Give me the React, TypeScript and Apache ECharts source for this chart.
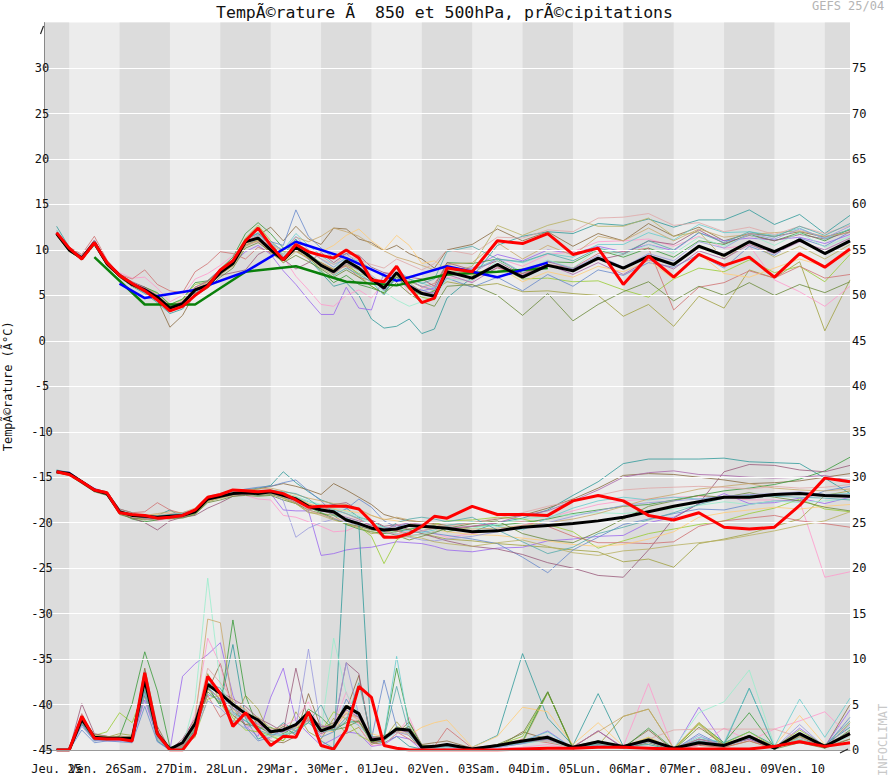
import React, { useEffect, useRef } from "react";
import * as echarts from "echarts";

// ---------- time axis (hours after start) ----------
const hours = [6,12,18,24,30,36,42,48, 54,60,66,72,78,84,90,96, 102,108,114,120,126,132,138,144, 150,156,162,168,174,180,186,192, 204,216,228,240,252,264,276,288, 300,312,324,336,348,360,372,384];
const dayLabels = ["Jeu. 25","Ven. 26","Sam. 27","Dim. 28","Lun. 29","Mar. 30","Mer. 01","Jeu. 02","Ven. 03","Sam. 04","Dim. 05","Lun. 06","Mar. 07","Mer. 08","Jeu. 09","Ven. 10"];
const dayLabelHours = [6,12,36,60,84,108,132,156,180,204,228,252,276,300,324,348];
const darkBands = [[0,12],[36,60],[84,108],[132,156],[180,204],[228,252],[276,300],[324,348],[372,384]];
const gridLineValues = [-40,-35,-30,-25,-20,-15,-10,-5,0,5,10,15,20,25,30];

// ---------- main lines ----------
const mean850 = [11.8,10.0,9.1,10.8,8.5,7.2,6.2,5.6, 4.8,3.6,4.1,5.6,6.1,7.5,8.5,10.9, 11.3,10.0,8.9,10.3,9.4,8.3,7.6,8.8, 8.0,6.8,5.8,7.5,6.0,5.2,4.9,7.6, 6.9,8.4,7.0,8.3,7.7,9.1,8.0,9.3, 8.4,10.4,9.4,10.9,9.8,11.1,9.6,11.0];
const ctrl850 = [11.9,10.2,9.0,10.8,8.6,7.2,6.3,5.5, 4.5,3.3,3.8,5.0,6.0,7.8,8.8,11.0, 12.4,10.5,8.9,10.6,9.8,9.4,9.1,10.0, 9.1,6.7,6.5,8.2,5.9,4.2,4.7,8.0, 7.6,11.0,10.7,11.8,9.5,10.2,6.2,9.3, 7.0,9.5,8.3,9.2,7.0,9.6,8.1,10.1];
const mean500 = [-14.4,-14.6,-15.5,-16.4,-16.8,-18.8,-19.2,-19.3, -19.4,-19.3,-19.2,-18.8,-17.4,-17.1,-16.8,-16.7, -16.8,-16.6,-17.0,-17.4,-18.2,-18.6,-18.8,-19.7, -20.1,-20.6,-20.8,-20.7,-20.3,-20.4,-20.5,-20.6, -21.0,-20.9,-20.5,-20.3,-20.1,-19.8,-19.4,-18.8, -18.2,-17.7,-17.2,-17.2,-16.9,-16.8,-17.0,-17.1];
const ctrl500 = [-14.4,-14.7,-15.5,-16.4,-16.7,-18.9,-19.1,-19.2, -19.5,-19.4,-19.2,-18.6,-17.2,-16.9,-16.4,-16.5, -16.6,-16.5,-16.8,-17.5,-18.3,-18.2,-18.2,-18.2, -18.5,-19.9,-21.6,-21.6,-21.2,-20.4,-19.3,-19.5, -18.2,-19.1,-19.1,-19.2,-17.6,-17.0,-17.6,-19.2, -19.7,-18.9,-20.5,-20.7,-20.5,-18.1,-15.1,-15.5];
const meanPr = [0,0,3.4,1.4,1.3,1.3,1.3,7.7, 1.8,0.1,0.8,2.9,7.2,6.2,5.0,4.0, 3.3,2.0,2.2,2.8,4.1,2.1,2.6,4.8, 4.0,1.1,1.3,2.3,2.2,0.3,0.4,0.6, 0.1,0.5,1.0,1.4,0.3,0.9,0.4,1.1, 0.2,0.8,0.5,1.5,0.2,1.8,0.4,1.8];
const ctrlPr = [0,0,3.7,1.3,1.2,1.2,1.0,8.5, 1.8,0,0,1.8,8.1,6.2,2.6,4.1, 2.2,0.5,1.5,1.4,4.2,0.5,0.1,2.2, 7.0,5.8,0.5,0.2,0,0,0,0, 0,0,0.1,0.2,0.2,0.3,0.3,0.2, 0.1,0.1,0.1,0.1,0.4,0.9,0.4,0.8];

const greenHours = [24,48,72,96,120,144,168,192,216,240];
const green850 = [9.2,4.0,4.0,7.6,8.2,6.5,6.1,7.3,7.6,8.0];
const blueHours = [36,48,72,96,120,144,168,192,216,240];
const blue850 = [6.3,4.7,5.6,7.6,10.9,9.1,6.6,8.2,7.0,8.6];

// ---------- ensemble members: 850 hPa ----------
const teal850 = [12.6,10.3,9.3,10.9,8.6,7.0,6.0,5.2, 4.2,3.0,3.5,5.2,6.3,7.6,8.8,11.2, 11.8,10.5,9.5,11.2,9.0,7.5,6.0,6.4, 5.0,2.4,1.4,1.6,2.4,0.8,1.3,4.7, 7.0,10.5,11.5,12.0,11.8,12.9,12.7,13.4, 12.5,13.3,13.3,14.4,12.8,13.9,11.8,13.8];
const olive850 = [11.6,9.8,9.0,10.6,8.3,7.0,6.1,5.4, 4.6,3.4,4.3,5.9,6.5,7.7,8.7,10.6, 11.0,9.6,8.8,10.0,9.1,8.6,7.9,8.3, 7.4,7.0,6.2,7.0,6.5,6.0,5.5,6.5, 6.0,6.3,5.4,5.5,5.2,5.0,2.7,4.0, 1.6,4.9,3.6,7.8,6.9,8.7,1.1,6.7];
const brown850 = [11.9,10.1,9.2,11.0,8.6,7.3,6.3,5.5, 4.5,1.5,2.8,5.3,6.6,7.6,8.6,10.8, 11.6,12.5,11.0,12.6,11.2,10.6,12.4,12.3, 11.2,10.8,9.9,10.5,9.6,9.0,8.0,10.0, 10.6,12.3,11.0,12.0,10.4,11.8,11.0,12.9, 11.5,12.5,11.0,11.8,11.5,12.0,11.4,12.2];
const purple850 = [11.7,10.1,9.0,10.7,8.4,7.1,6.0,5.8, 4.9,3.7,4.2,5.4,6.2,7.9,8.5,9.8, 10.5,9.5,7.7,6.2,4.5,2.9,2.9,5.9, 3.6,3.4,7.5,7.0,6.2,5.5,5.8,7.9, 8.0,9.5,8.8,10.0,9.6,10.4,9.8,10.6, 9.9,11.9,11.0,11.3,11.1,11.4,10.7,11.7];
const pink850 = [11.8,9.9,9.2,10.9,8.7,7.5,6.9,7.0, 5.8,4.3,5.0,6.8,7.4,8.3,9.4,10.6, 10.9,9.8,9.2,7.1,5.6,4.0,3.8,5.0, 5.6,4.7,6.5,7.4,5.2,5.8,6.0,7.0, 6.5,9.1,8.2,9.5,9.8,10.9,11.0,11.2, 10.4,11.5,10.2,10.5,6.7,5.4,3.8,6.0];
const lime850 = [11.7,10.0,9.1,10.7,8.4,7.1,6.1,5.9, 5.2,4.0,4.5,6.2,6.5,7.7,8.9,11.3, 12.7,11.0,9.8,10.0,9.5,8.6,7.8,8.6, 7.2,6.0,5.2,7.2,5.6,4.8,4.5,8.2, 7.2,8.3,6.8,6.9,6.5,6.6,5.6,4.8, 6.8,8.0,7.6,8.9,7.5,8.2,6.5,9.5];
const green2_850 = [11.9,10.2,8.9,10.6,8.5,7.3,6.4,5.9, 5.3,4.0,4.6,6.4,6.6,7.9,9.2,11.8, 13.0,11.8,10.2,10.4,9.2,7.7,6.4,7.2, 6.2,5.8,5.3,7.0,5.7,5.0,5.5,8.6, 8.5,9.0,7.4,8.7,8.6,10.0,9.2,10.2, 9.2,11.0,10.6,11.7,11.0,11.9,11.0,12.3];
const slate850 = [11.8,10.0,9.0,10.9,8.6,7.1,6.1,5.3, 4.4,3.2,4.0,5.5,6.0,7.4,8.4,10.5, 11.2,10.9,10.5,14.4,11.5,10.2,9.1,9.6, 8.5,6.9,5.5,6.8,5.8,5.6,5.1,6.9, 5.9,7.0,5.5,7.3,6.0,7.8,7.2,8.6, 8.1,9.5,8.0,10.4,9.4,11.3,10.4,12.0];
const mauve850 = [11.9,10.1,9.1,10.8,8.5,7.3,6.5,5.9, 5.0,3.9,4.1,5.7,6.2,7.2,7.5,7.8, 9.5,10.2,9.0,7.9,8.6,9.7,8.6,9.6, 9.4,8.1,7.5,7.3,7.0,6.8,6.0,8.6, 7.8,8.8,7.2,8.7,8.0,8.9,9.5,11.0, 10.6,12.2,10.7,11.6,11.0,11.7,11.2,12.0];
const salmon850 = [12.0,10.3,9.5,11.5,8.9,7.3,6.8,7.8, 6.2,5.5,5.3,7.6,8.5,9.8,9.6,9.0, 10.3,9.7,9.2,9.9,9.0,8.6,7.8,8.2, 7.0,6.6,6.4,7.3,6.8,5.9,6.3,8.2, 6.8,8.0,7.4,8.4,8.0,9.6,9.8,10.2, 3.4,5.9,6.4,7.7,6.9,8.2,6.9,7.3];
const peach850 = [11.8,10.0,9.2,10.8,8.4,7.2,6.2,5.6, 4.9,3.8,4.4,5.8,6.3,7.5,8.3,10.6, 11.4,10.2,9.1,10.6,10.5,9.8,10.5,11.6, 12.3,11.0,10.0,11.6,10.5,8.5,8.8,7.8, 7.3,8.2,6.5,7.6,7.0,8.2,7.6,8.8, 6.8,9.6,7.4,7.0,8.0,9.0,8.2,9.7];
const aqua850 = [12.2,10.2,9.3,11.0,8.7,7.2,6.3,5.7, 4.6,3.4,4.0,5.6,6.0,7.3,8.4,11.0, 11.5,10.7,10.0,11.8,10.5,9.4,8.4,9.0, 8.8,7.9,7.0,7.9,6.8,6.4,5.8,7.5, 7.8,9.0,8.6,9.6,9.2,10.6,10.6,11.9, 11.1,12.8,11.9,12.0,11.6,12.4,11.2,12.3];
const mint850 = [11.8,9.9,9.0,10.7,8.5,7.2,6.3,5.7, 4.7,3.6,4.0,5.4,6.2,7.6,8.6,10.8, 11.2,10.4,9.6,10.6,10.0,9.0,8.1,8.7, 7.6,6.4,5.4,4.5,3.8,4.3,4.8,6.8, 6.6,8.8,7.6,8.9,8.0,10.1,9.4,10.6, 9.6,11.4,10.4,11.7,10.5,11.9,10.3,11.5];
const tan850 = [11.9,10.1,9.0,10.9,8.6,7.4,6.4,5.5, 4.7,3.7,4.3,5.7,6.4,7.4,8.2,10.4, 11.0,10.6,9.8,11.4,10.9,11.5,12.4,12.0, 11.5,10.6,9.9,9.2,8.8,8.3,7.8,8.4, 8.6,10.8,9.0,10.5,9.4,11.5,11.0,12.4, 11.0,12.3,11.4,11.7,11.9,12.1,11.5,11.9];
const dkolive850 = [11.7,9.9,8.9,10.5,8.3,7.0,6.0,5.4, 4.6,3.3,3.8,5.0,5.8,7.0,8.0,10.2, 10.8,9.8,8.6,9.4,8.7,7.9,7.0,7.8, 7.0,6.0,5.2,6.4,5.2,4.3,3.8,6.0, 6.2,5.0,2.8,5.2,2.2,4.0,5.4,6.5, 4.4,6.0,5.0,6.4,5.0,6.2,5.3,6.5];
const lavender850 = [11.9,10.0,9.2,10.8,8.5,7.2,6.2,5.7, 4.8,3.6,4.1,5.5,6.0,7.4,8.4,10.9, 11.7,10.8,9.9,11.5,10.0,9.0,8.1,9.2, 8.6,7.2,6.2,8.0,6.6,6.0,5.6,8.1, 7.4,9.1,7.5,8.8,7.9,9.4,8.1,9.6, 8.8,10.9,10.2,11.8,11.2,12.3,11.3,12.6];
const rose850 = [11.8,10.1,9.1,10.9,8.6,7.3,6.4,5.8, 5.0,3.9,4.4,5.9,6.4,7.7,8.7,11.0, 11.6,10.4,9.5,10.8,9.9,9.0,8.4,9.4, 8.9,8.4,8.0,9.0,8.4,7.8,8.5,10.0, 9.5,11.4,11.3,12.2,12.0,13.5,13.6,14.0, 12.7,13.0,12.0,12.5,11.7,12.6,11.8,12.7];
const cyan850 = [11.8,10.0,9.0,10.8,8.5,7.1,6.1,5.5, 4.6,3.5,4.0,5.6,6.2,7.6,8.6,11.1, 11.9,10.6,9.3,10.6,9.6,8.5,7.2,8.0, 7.3,6.5,5.0,7.4,6.8,6.3,6.8,9.8, 10.4,9.0,8.7,9.6,8.8,10.2,9.6,11.0, 10.0,11.9,10.8,12.0,11.4,12.6,11.6,12.9];
const khaki850 = [11.6,9.9,9.0,10.6,8.4,7.1,6.0,5.4, 4.5,3.4,4.2,5.8,6.0,7.2,8.3,10.5, 11.1,9.8,8.6,9.8,9.1,8.0,7.3,8.4, 7.8,6.6,6.0,7.6,6.4,5.4,5.0,7.4, 8.2,12.7,11.6,12.7,13.4,12.6,12.6,13.5, 11.5,12.0,9.0,10.8,9.2,10.4,9.0,10.6];
const plum850 = [11.9,10.2,9.3,11.1,8.7,7.4,6.4,5.8, 4.9,3.8,4.3,5.9,6.6,7.9,8.9,10.9, 11.4,10.3,9.2,10.3,9.3,8.3,7.4,8.5, 7.8,6.7,5.6,7.6,6.1,5.3,5.3,7.3, 6.4,8.1,7.2,8.4,7.3,8.6,7.3,8.9, 7.9,9.9,9.0,10.6,9.6,10.9,10.0,11.3];

// ---------- ensemble members: 500 hPa ----------
const teal500 = [-14.2,-14.5,-15.4,-16.3,-16.6,-18.5,-18.9,-19.6, -19.2,-18.6,-19.4,-19.0,-17.3,-16.9,-16.5,-16.4, -16.2,-15.9,-14.4,-15.6,-16.6,-17.5,-18.0,-18.4, -19.4,-19.8,-20.5,-20.8,-21.2,-20.9,-20.6,-20.4, -21.0,-20.0,-19.5,-18.6,-17.0,-15.5,-13.5,-13.0, -13.0,-13.0,-12.9,-13.3,-13.4,-13.5,-15.1,-16.8];
const olive500 = [-14.4,-14.6,-15.6,-16.5,-16.9,-19.0,-19.5,-19.7, -19.5,-19.6,-19.4,-19.0,-17.7,-17.3,-16.9,-16.8, -16.9,-16.8,-17.3,-17.9,-18.9,-19.0,-19.2,-20.2, -20.5,-21.2,-21.0,-20.9,-20.7,-21.2,-21.5,-21.8, -22.0,-22.3,-22.5,-22.7,-23.0,-23.2,-24.3,-24.0, -24.9,-22.3,-21.8,-21.2,-20.4,-19.6,-17.0,-16.5];
const brown500 = [-14.5,-14.7,-15.5,-16.4,-16.7,-18.9,-19.3,-19.3, -19.3,-19.2,-19.0,-18.6,-17.2,-16.9,-16.6,-16.5, -16.3,-16.0,-15.7,-16.0,-16.4,-16.9,-15.7,-16.4, -17.2,-18.0,-19.1,-19.5,-19.8,-19.9,-20.1,-20.3, -20.0,-19.6,-19.2,-18.4,-17.4,-16.2,-14.8,-14.6, -14.7,-15.0,-15.3,-15.7,-15.6,-15.4,-15.0,-14.6];
const purple500 = [-14.3,-14.4,-15.4,-16.2,-16.7,-18.7,-19.1,-19.2, -19.2,-19.0,-18.9,-18.6,-17.4,-17.0,-16.8,-16.7, -17.0,-16.8,-18.6,-18.7,-18.7,-23.6,-23.4,-23.0, -22.8,-22.7,-22.4,-22.1,-22.2,-22.3,-22.6,-23.0, -23.2,-22.8,-22.7,-22.0,-21.8,-21.5,-21.4,-20.0, -19.4,-17.9,-16.8,-17.9,-17.8,-17.3,-17.9,-17.2];
const pink500 = [-14.4,-14.6,-15.5,-16.5,-16.9,-19.0,-19.4,-19.6, -19.8,-19.5,-19.0,-18.6,-17.6,-17.2,-17.0,-17.0, -17.4,-17.5,-19.2,-19.4,-19.9,-20.4,-21.0,-20.9, -20.3,-20.6,-20.5,-20.8,-21.0,-20.8,-21.2,-21.6, -21.2,-20.8,-20.3,-19.5,-18.7,-18.0,-17.6,-17.4, -17.2,-17.1,-17.2,-17.5,-17.5,-17.6,-26.0,-25.4];
const lime500 = [-14.3,-14.6,-15.4,-16.3,-16.8,-18.8,-19.2,-19.4, -19.3,-19.1,-19.3,-19.0,-17.6,-17.1,-16.7,-16.6, -16.7,-16.5,-16.9,-17.2,-18.0,-18.6,-19.1,-19.6, -20.4,-21.5,-24.5,-21.9,-21.0,-20.6,-20.2,-19.8, -19.7,-19.4,-19.6,-20.2,-21.0,-22.8,-22.0,-21.2, -20.7,-20.2,-19.8,-19.0,-18.4,-17.4,-18.5,-18.8];
const green2_500 = [-14.4,-14.7,-15.6,-16.4,-16.8,-18.9,-19.6,-19.9, -19.7,-19.4,-19.0,-18.8,-17.5,-17.2,-16.9,-16.8, -17.0,-16.9,-17.2,-17.7,-18.3,-18.9,-19.5,-20.2, -20.7,-21.0,-21.2,-21.0,-20.7,-20.5,-20.3,-21.0, -20.4,-20.3,-20.0,-19.6,-19.0,-18.6,-18.2,-18.0, -17.5,-17.0,-16.5,-16.2,-15.8,-15.2,-14.3,-12.8];
const slate500 = [-14.3,-14.5,-15.5,-16.4,-16.7,-18.8,-19.2,-19.3, -19.4,-19.2,-19.1,-18.7,-17.3,-17.0,-16.6,-16.3, -16.1,-16.0,-15.6,-15.3,-16.5,-17.6,-19.0,-18.5, -17.4,-18.3,-19.8,-20.5,-20.0,-20.9,-21.2,-21.4, -21.8,-22.3,-23.8,-25.5,-23.0,-21.6,-20.2,-19.6, -19.0,-18.5,-18.6,-18.0,-17.6,-17.6,-16.5,-16.0];
const mauve500 = [-14.4,-14.6,-15.6,-16.5,-16.9,-19.0,-19.5,-20.0, -20.8,-19.8,-19.4,-19.2,-18.4,-17.8,-17.1,-16.9, -16.9,-16.7,-17.1,-17.8,-18.6,-18.3,-18.0,-17.8, -18.6,-19.7,-20.4,-20.2,-20.8,-21.2,-21.6,-22.0, -22.6,-22.9,-23.5,-24.4,-25.0,-25.8,-26.0,-23.0, -19.5,-17.9,-14.4,-13.6,-13.7,-14.2,-14.4,-13.7];
const salmon500 = [-14.5,-14.7,-15.4,-16.3,-16.6,-18.5,-18.9,-18.8, -17.8,-18.6,-19.0,-18.7,-17.5,-17.2,-16.9,-16.6, -16.7,-16.5,-16.9,-17.2,-17.9,-18.4,-18.5,-19.0, -19.6,-20.4,-20.6,-20.9,-21.4,-21.3,-21.0,-20.7, -20.4,-20.0,-19.9,-20.4,-21.5,-22.2,-22.2,-22.3, -22.1,-20.4,-19.8,-19.5,-19.2,-19.8,-20.1,-20.5];
const peach500 = [-14.4,-14.6,-15.5,-16.4,-16.8,-18.8,-19.1,-19.2, -19.1,-19.0,-19.1,-18.7,-17.2,-17.0,-16.7,-16.6, -16.6,-16.4,-16.8,-17.1,-17.9,-18.2,-18.5,-18.7, -18.9,-19.2,-19.6,-19.8,-20.0,-20.5,-20.7,-21.0, -21.3,-21.4,-21.7,-22.0,-22.4,-22.6,-22.4,-21.8, -21.0,-19.4,-18.9,-18.6,-18.3,-18.5,-18.2,-18.0];
const aqua500 = [-14.4,-14.6,-15.5,-16.4,-16.8,-18.9,-19.3,-19.4, -19.5,-19.4,-19.3,-18.9,-17.4,-17.1,-16.9,-16.7, -16.8,-16.7,-17.0,-17.2,-17.7,-18.1,-18.6,-19.0, -19.5,-20.3,-20.5,-20.7,-20.9,-21.1,-20.8,-20.3, -19.9,-20.4,-20.8,-19.5,-18.4,-17.6,-17.2,-17.5, -17.2,-17.4,-17.1,-17.3,-17.0,-16.8,-16.9,-16.8];
const mint500 = [-14.3,-14.5,-15.5,-16.3,-16.7,-18.7,-19.0,-19.2, -19.2,-19.1,-19.0,-18.7,-17.3,-17.0,-16.6,-16.5, -16.6,-16.4,-16.7,-17.1,-17.6,-18.0,-18.4,-18.8, -19.3,-20.0,-20.6,-21.2,-21.5,-21.3,-21.0,-20.7, -20.6,-20.2,-19.6,-19.3,-19.1,-18.9,-19.0,-18.7, -18.5,-18.1,-17.7,-18.0,-17.6,-17.8,-17.6,-17.4];
const tan500 = [-14.4,-14.6,-15.5,-16.4,-16.8,-18.9,-19.3,-19.2, -19.0,-18.8,-18.9,-18.4,-17.1,-16.8,-16.5,-16.4, -16.3,-16.2,-16.5,-16.9,-17.3,-17.6,-17.9,-18.0, -18.5,-19.2,-19.7,-19.4,-19.7,-20.0,-20.2,-20.5, -20.7,-20.6,-20.3,-20.0,-19.6,-19.0,-18.2,-17.4, -16.9,-16.3,-16.0,-15.7,-16.2,-16.4,-16.5,-16.3];
const dkolive500 = [-14.5,-14.8,-15.7,-16.6,-17.0,-19.1,-19.5,-19.6, -19.6,-19.5,-19.5,-19.1,-17.8,-17.5,-17.1,-17.0, -17.1,-17.0,-17.5,-17.9,-18.6,-19.0,-19.6,-20.1, -20.4,-20.8,-21.0,-21.4,-21.9,-21.5,-21.1,-20.6, -20.1,-19.8,-21.2,-21.9,-22.2,-21.0,-19.6,-18.2, -17.6,-17.0,-17.2,-16.7,-17.2,-17.6,-18.3,-18.7];
const lavender500 = [-14.3,-14.5,-15.4,-16.3,-16.7,-18.8,-19.1,-19.2, -19.3,-19.1,-19.1,-18.7,-17.3,-17.0,-16.7,-16.6, -16.7,-16.6,-17.6,-21.6,-20.6,-20.0,-19.6,-19.9, -20.3,-20.6,-21.0,-21.3,-21.6,-21.9,-22.0,-21.8, -21.5,-21.0,-20.6,-20.0,-19.3,-18.7,-18.1,-17.8, -17.6,-17.4,-17.1,-16.9,-16.8,-16.6,-16.9,-17.0];
const rose500 = [-14.4,-14.6,-15.5,-16.5,-16.9,-18.9,-19.3,-19.4, -19.4,-19.3,-19.2,-18.9,-17.5,-17.2,-16.9,-16.8, -16.9,-16.8,-17.2,-17.7,-18.6,-19.1,-19.5,-19.8, -20.2,-20.7,-21.0,-21.2,-21.1,-20.9,-20.6,-20.4, -20.0,-19.5,-18.9,-18.2,-17.6,-17.0,-16.4,-16.2, -16.1,-16.0,-16.1,-16.3,-16.0,-16.2,-16.1,-15.8];
const cyan500 = [-14.3,-14.5,-15.4,-16.3,-16.7,-18.8,-19.1,-19.3, -19.3,-19.1,-19.0,-18.6,-17.2,-16.9,-16.6,-16.5, -16.5,-16.4,-16.6,-16.8,-17.4,-18.4,-19.2,-19.6, -20.0,-20.6,-21.0,-20.0,-19.6,-19.4,-19.6,-19.9, -19.4,-20.8,-22.1,-23.4,-22.7,-21.2,-20.5,-19.7, -18.9,-18.0,-17.3,-17.0,-17.1,-17.2,-17.3,-17.5];
const khaki500 = [-14.5,-14.7,-15.6,-16.5,-16.9,-19.0,-19.3,-19.5, -19.6,-19.4,-19.3,-18.9,-17.6,-17.3,-17.0,-16.8, -16.9,-16.8,-17.3,-17.9,-18.8,-19.2,-19.7,-20.1, -20.6,-21.0,-21.4,-21.7,-21.5,-21.7,-22.1,-22.3, -22.6,-22.2,-21.9,-22.6,-23.3,-23.6,-23.1,-22.9, -22.5,-22.2,-21.9,-21.4,-20.9,-20.3,-19.8,-18.8];
const plum500 = [-14.4,-14.6,-15.5,-16.4,-16.8,-18.8,-19.2,-19.5, -19.6,-19.5,-19.3,-18.9,-17.5,-17.2,-16.9,-16.8, -16.8,-16.7,-17.1,-17.6,-18.3,-18.7,-19.0,-19.4, -19.8,-20.3,-20.7,-20.3,-20.0,-20.2,-20.4,-20.6, -20.4,-20.0,-19.2,-18.7,-17.6,-16.4,-15.0,-14.5, -14.3,-14.7,-14.8,-15.0,-15.1,-15.0,-14.8,-15.4];

// ---------- ensemble members: precipitation (mm, right axis) ----------
const tealPr = [0,0,2.8,1.0,1.3,1.1,0.9,6.5, 1.0,0,0.3,2.0,6.8,5.0,11.6,3.5, 1.2,1.8,3.0,2.1,3.4,1.0,0.2,25.5, 24.8,1.0,0.8,1.5,0.4,0.1,0,0.2, 0.3,1.6,10.6,3.5,0.5,6.2,0.4,0.6, 0,1.2,0.8,2.0,0.5,1.0,0.6,2.5];
const olivePr = [0,0,3.2,1.5,1.4,1.8,1.6,7.0, 2.0,0,0.5,1.4,8.4,5.2,3.0,6.0, 4.5,1.5,1.0,4.2,2.0,1.2,3.5,1.8, 2.5,0.6,1.2,3.1,1.5,0.2,0.3,0.5, 0,0.4,0.8,6.3,0.2,0.5,3.7,4.5, 0.2,2.8,0.3,1.0,0.1,1.5,0.2,3.0];
const brownPr = [0,0,3.6,1.7,1.5,1.2,1.1,9.0, 2.6,0,0.2,2.5,6.5,9.5,4.5,3.6, 2.2,1.0,0.8,1.5,6.2,2.4,3.0,4.4, 8.2,0.8,0.6,1.8,3.1,0.6,0.8,1.0, 0.2,0.3,2.0,1.2,0.4,1.0,0.3,2.2, 0,0.5,0.3,1.6,0.4,1.2,0.3,5.0];
const purplePr = [0,0,2.9,1.1,1.0,1.0,1.1,5.5, 1.4,0,8.1,9.5,10.5,11.8,6.0,2.6, 1.5,5.8,9.0,3.2,1.8,0.5,1.2,2.0, 1.8,0.4,0.6,1.5,1.2,0,0.2,0.3, 0.1,0.6,0.9,2.1,0.2,0.8,0.3,1.0, 0,4.7,0.6,1.2,0.2,2.4,0.4,4.4];
const pinkPr = [0,0,3.0,1.2,1.2,1.4,1.5,7.2, 1.6,0,0.4,4.0,12.3,9.4,4.0,2.8, 1.8,1.2,2.6,3.4,5.3,1.6,2.8,6.4, 2.6,0.5,0.6,1.8,3.6,0.4,0.3,0.2, 0,0.2,0.3,0.6,0.1,0.9,0.4,7.3, 0,0.5,2.4,1.0,2.3,3.2,4.2,1.5];
const limePr = [0,0,3.5,1.6,2.0,4.1,3.0,6.8, 1.2,0,0.3,1.6,5.6,6.0,3.5,2.2, 2.0,1.6,1.0,2.4,3.0,2.0,4.2,3.4, 1.6,0.9,1.0,2.6,2.0,0.4,0.3,0.5, 0.1,0.5,1.5,6.3,0.3,0.6,0.2,1.4, 0,2.9,0.7,2.0,0.3,2.2,0.5,2.0];
const green2Pr = [0,0,3.8,1.4,1.3,1.5,5.1,10.8, 6.5,0.3,0.5,3.0,7.0,4.8,14.3,6.0, 2.4,2.5,1.8,2.6,4.5,3.6,2.2,3.0, 3.2,1.2,1.5,9.0,3.0,0.5,0.4,0.6, 0.1,0.4,1.0,6.4,0.1,1.0,0.2,2.4, 0.1,3.0,0.8,4.1,0.3,1.5,0.2,2.2];
const slatePr = [0,0,2.2,0.8,1.0,0.9,0.8,4.8, 0.9,0,0.4,2.2,6.1,5.5,5.2,2.5, 1.0,1.4,2.4,1.8,3.6,1.4,2.0,5.6, 3.5,1.2,7.7,2.5,1.8,0.2,0.4,0.5, 0.1,0.3,0.7,1.2,0.2,0.6,0.3,1.2, 0,1.8,0.4,1.3,0.1,1.4,0.3,3.6];
const mauvePr = [0,0,5.1,1.8,1.5,1.3,1.2,8.6, 2.2,0,1.2,3.5,7.8,6.4,5.6,4.8, 3.5,2.8,2.0,9.0,3.0,1.8,2.4,9.6, 8.4,0.8,1.0,2.2,2.0,0.2,0.5,0.6, 0.2,0.5,0.9,1.0,0.3,2.1,0.2,1.0, 0.1,1.0,0.5,1.2,0.2,1.6,0.3,1.8];
const salmonPr = [0,0,4.0,1.2,1.4,1.3,1.2,7.6, 1.5,0,0.5,2.4,6.0,3.6,4.6,2.8, 3.2,2.0,2.8,2.0,3.3,2.8,2.0,3.6, 3.0,1.4,1.6,2.0,1.2,0.3,0.4,2.4, 0.2,0.4,1.2,0.8,0.3,0.6,0.2,1.0, 0.2,0.6,0.3,1.0,0.2,1.1,0.4,1.2];
const peachPr = [0,0,3.3,1.3,1.2,1.2,1.4,7.4, 1.7,0,0.6,2.8,6.6,5.8,4.4,3.8, 2.7,1.6,1.4,2.4,3.7,2.2,2.0,4.2, 3.3,1.8,1.4,2.2,1.6,2.5,3.0,3.3, 0.3,1.5,4.7,4.2,0.6,3.0,0.4,1.4, 0.1,3.0,0.5,1.4,0.4,3.8,0.6,1.8];
const aquaPr = [0,0,3.1,1.4,1.3,1.2,1.3,6.9, 2.0,0,0.4,2.6,7.0,5.5,4.0,3.2, 2.5,1.9,1.7,2.2,3.0,2.0,2.2,3.5, 2.7,1.3,1.5,10.3,2.4,0.3,0.2,0.4, 0.1,0.5,1.0,2.0,0.2,0.8,0.3,1.2, 0.1,1.4,0.8,6.8,0.4,5.6,1.4,5.7];
const mintPr = [0,0,3.3,1.3,1.3,1.2,1.3,7.0, 1.8,0,0.3,5.5,18.9,7.2,4.5,3.6, 2.0,1.4,1.5,2.6,3.6,2.0,12.3,6.2, 4.0,1.2,1.0,2.0,1.8,0.2,0.2,0.3, 0.2,0.3,0.8,1.0,0.2,0.7,0.3,1.0, 0.2,4.1,5.3,8.8,0.5,1.2,0.3,1.5];
const tanPr = [0,0,3.4,1.3,1.2,1.6,1.2,8.0, 1.9,0,0.5,3.4,14.4,14.0,5.0,4.5, 3.0,2.2,2.0,2.6,3.5,2.0,2.8,4.0, 3.6,1.0,1.2,2.4,2.0,0.4,0.5,0.6, 0.2,0.6,1.1,1.4,0.4,2.0,3.7,4.5, 0.2,1.2,0.6,1.6,0.3,1.5,0.4,1.8];
const dkolivePr = [0,0,3.0,1.1,1.1,1.2,1.2,6.0, 1.5,0,0.4,2.2,6.4,5.2,3.8,2.8, 2.6,1.8,2.6,1.6,3.9,2.6,2.2,2.5, 3.2,0.8,1.6,2.0,2.6,0.5,0.4,0.6, 0,0.6,1.8,6.4,0.2,0.4,0.2,0.8, 0,2.5,0.6,1.5,0.1,0.8,0.2,1.2];
const lavenderPr = [0,0,2.6,1.0,1.1,1.0,1.0,6.2, 1.2,0,0.3,2.0,5.4,4.6,3.2,2.4, 3.0,1.6,2.0,2.4,11.1,2.4,2.6,9.6, 3.8,1.0,1.2,2.0,1.6,0.2,0.3,0.4, 0.1,0.3,0.7,1.6,0.2,0.5,0.2,0.9, 0.1,1.6,0.4,1.3,0.2,2.8,0.3,2.8];
const rosePr = [0,0,3.5,1.5,1.4,1.3,1.4,7.8, 1.9,0,0.4,2.8,9.0,7.4,5.6,4.4, 3.0,1.8,2.2,2.6,3.4,2.2,2.4,4.0, 3.4,1.3,1.5,2.0,1.8,0.3,0.4,0.5, 0.3,0.5,1.0,1.0,0.4,0.8,0.4,1.2, 2.2,2.3,2.3,2.3,2.3,1.4,0.5,1.6];
const cyanPr = [0,0,3.0,1.2,1.1,1.2,1.1,6.6, 1.6,0,0.3,2.4,7.4,6.8,4.2,3.2, 2.2,1.7,1.6,2.0,3.0,5.0,2.0,3.2, 7.4,1.5,1.3,7.0,1.8,0.3,0.3,0.4, 0.1,0.4,0.8,1.2,0.3,0.6,0.3,1.0, 0.2,1.0,0.6,6.8,0.3,1.6,0.5,3.2];
const khakiPr = [0,0,3.6,1.6,1.5,1.4,1.5,7.5, 2.0,0,0.4,2.6,7.0,6.2,5.4,4.0, 3.6,2.4,2.2,2.8,4.0,2.4,2.8,5.0, 4.0,1.4,1.4,2.4,2.0,0.4,0.4,0.6, 0.2,0.4,1.0,1.5,0.3,0.9,0.4,1.3, 0.2,3.0,0.4,1.4,0.2,1.5,0.4,2.0];
const plumPr = [0,0,3.2,1.4,1.3,1.3,1.2,7.2, 1.7,0,0.5,2.8,6.8,5.6,4.6,3.6, 2.8,2.2,2.0,2.8,3.8,2.6,2.6,4.4, 3.6,1.4,1.2,2.2,2.0,0.3,0.4,0.6, 0.2,0.5,0.9,1.2,0.3,2.1,0.3,1.0, 0.1,1.2,0.5,1.6,0.3,1.8,0.4,2.0];

const memberColors = ["#2f9a9a","#a0a040","#8a6a40","#9a66ee","#ff99cc","#99cc33","#3a9a3a","#6688cc","#9a5a7a","#d07070","#ffcc77","#66cccc","#99eecc","#c8a86a","#6a8a3a","#9999dd","#e0a8a8","#55aaaa","#b8b060","#aa66aa"];
const members850 = [teal850,olive850,brown850,purple850,pink850,lime850,green2_850,slate850,mauve850,salmon850,peach850,aqua850,mint850,tan850,dkolive850,lavender850,rose850,cyan850,khaki850,plum850];
const members500 = [teal500,olive500,brown500,purple500,pink500,lime500,green2_500,slate500,mauve500,salmon500,peach500,aqua500,mint500,tan500,dkolive500,lavender500,rose500,cyan500,khaki500,plum500];
const membersPr = [tealPr,olivePr,brownPr,purplePr,pinkPr,limePr,green2Pr,slatePr,mauvePr,salmonPr,peachPr,aquaPr,mintPr,tanPr,dkolivePr,lavenderPr,rosePr,cyanPr,khakiPr,plumPr];

const FONT = "DejaVu Sans Mono, monospace";

function pairs(hs: number[], vs: number[]) {
  return hs.map((h, i) => [h, vs[i]]);
}

function line(vals: number[], color: string, width: number, yIdx: number, z: number, opacity = 1, hs = hours) {
  return {
    type: "line",
    data: pairs(hs, vals),
    yAxisIndex: yIdx,
    xAxisIndex: 0,
    symbol: "none",
    showSymbol: false,
    silent: true,
    z,
    lineStyle: { color, width, opacity },
  };
}

function buildOption() {
  const series: any[] = [];
  series.push({
    type: "line",
    data: [],
    z: 1,
    silent: true,
    markArea: {
      silent: true,
      itemStyle: { color: "#dcdcdc" },
      data: darkBands.map(([a, b]) => [{ xAxis: a }, { xAxis: b }]),
    },
  });
  series.push({
    type: "line",
    data: [],
    z: 2,
    silent: true,
    markLine: {
      silent: true,
      symbol: "none",
      label: { show: false },
      lineStyle: { color: "#ffffff", width: 1, type: "solid" },
      data: gridLineValues.map((v) => ({ yAxis: v })),
    },
  });
  members850.forEach((m, k) => series.push(line(m, memberColors[k], 1, 0, 3, 0.8)));
  members500.forEach((m, k) => series.push(line(m, memberColors[k], 1, 0, 3, 0.8)));
  membersPr.forEach((m, k) => series.push(line(m, memberColors[k], 1, 1, 3, 0.8)));
  series.push(line(green850, "#0a800a", 2.5, 0, 5, 1, greenHours));
  series.push(line(blue850, "#0000ff", 2.5, 0, 6, 1, blueHours));
  series.push(line(mean850, "#000000", 3, 0, 7));
  series.push(line(mean500, "#000000", 3, 0, 7));
  series.push(line(meanPr, "#000000", 3, 1, 7));
  series.push(line(ctrl850, "#ff0000", 3, 0, 8));
  series.push(line(ctrl500, "#ff0000", 3, 0, 8));
  series.push(line(ctrlPr, "#ff0000", 3, 1, 8));

  const labelCommon = { color: "#111", fontFamily: FONT, fontSize: 12, hideOverlap: false };

  return {
    animation: false,
    backgroundColor: "#ffffff",
    textStyle: { fontFamily: FONT },
    grid: {
      left: 44,
      right: 39,
      top: 22.6,
      bottom: 28,
      show: true,
      backgroundColor: "#ececec",
      borderWidth: 0,
      containLabel: false,
      outerBoundsMode: "none",
    },
    xAxis: [
      {
        type: "value",
        min: 0,
        max: 384,
        z: 10,
        axisLine: { show: true, onZero: false, lineStyle: { color: "#999999", width: 1 } },
        axisTick: { show: false },
        splitLine: { show: false },
        axisLabel: {
          ...labelCommon,
          customValues: dayLabelHours.slice(1),
          align: "left",
          margin: 13,
          showMinLabel: true,
          showMaxLabel: true,
          formatter: (v: number) => dayLabels[dayLabelHours.indexOf(v)] || "",
        },
      },
      {
        type: "value",
        min: 0,
        max: 384,
        z: 10,
        position: "bottom",
        axisLine: { show: false, onZero: false },
        axisTick: { show: false },
        splitLine: { show: false },
        axisLabel: {
          ...labelCommon,
          customValues: [dayLabelHours[0]],
          align: "center",
          margin: 13,
          formatter: () => dayLabels[0],
        },
      },
    ],
    yAxis: [
      {
        type: "value",
        min: -45,
        max: 35,
        interval: 5,
        z: 10,
        position: "left",
        name: "TempÃ©rature (Ã°C)",
        nameLocation: "middle",
        nameGap: 30,
        nameTextStyle: { fontFamily: FONT, fontSize: 12, color: "#111" },
        axisLine: { show: true, onZero: false, lineStyle: { color: "#888888", width: 1 } },
        axisTick: { show: false },
        splitLine: { show: false },
        axisLabel: {
          ...labelCommon,
          align: "center",
          margin: 2,
          formatter: (v: number) => (v >= 35 ? "" : String(v)),
        },
      },
      {
        type: "value",
        min: 0,
        max: 80,
        interval: 5,
        z: 10,
        position: "right",
        axisLine: { show: false, onZero: false },
        axisTick: { show: false },
        splitLine: { show: false },
        axisLabel: {
          ...labelCommon,
          margin: 2,
          formatter: (v: number) => (v >= 80 ? "" : String(v)),
        },
      },
    ],
    graphic: [
      {
        type: "text",
        x: 444.5,
        y: 12,
        style: {
          text: "TempÃ©rature Ã\u00a0 850 et 500hPa, prÃ©cipitations",
          fill: "#111",
          font: `16.5px ${FONT}`,
          textAlign: "center",
          textVerticalAlign: "middle",
        },
      },
      {
        type: "text",
        x: 812,
        y: 6,
        style: {
          text: "GEFS 25/04",
          fill: "#b4b4b4",
          font: `12px ${FONT}`,
          textAlign: "left",
          textVerticalAlign: "middle",
        },
      },
      {
        type: "text",
        x: 883,
        y: 776,
        rotation: Math.PI / 2,
        style: {
          text: "INFOCLIMAT",
          fill: "#c8c8c8",
          font: `12px ${FONT}`,
          textAlign: "left",
          textVerticalAlign: "middle",
        },
      },
      {
        type: "line",
        z: 20,
        shape: { x1: 40.5, y1: 34, x2: 43.5, y2: 26 },
        style: { stroke: "#222", lineWidth: 1.2 },
      },
      {
        type: "line",
        z: 20,
        shape: { x1: 840, y1: 753, x2: 848, y2: 749 },
        style: { stroke: "#222", lineWidth: 1.2 },
      },
    ],
    series,
  };
}

export default function App() {
  const ref = useRef<HTMLDivElement>(null);
  useEffect(() => {
    if (!ref.current) return;
    const chart = echarts.init(ref.current, null, { renderer: "svg" });
    chart.setOption(buildOption() as any);
    return () => chart.dispose();
  }, []);
  return (
    <div
      ref={ref}
      style={{ position: "absolute", left: 0, top: 0, width: 889, height: 778, background: "#fff" }}
    />
  );
}
